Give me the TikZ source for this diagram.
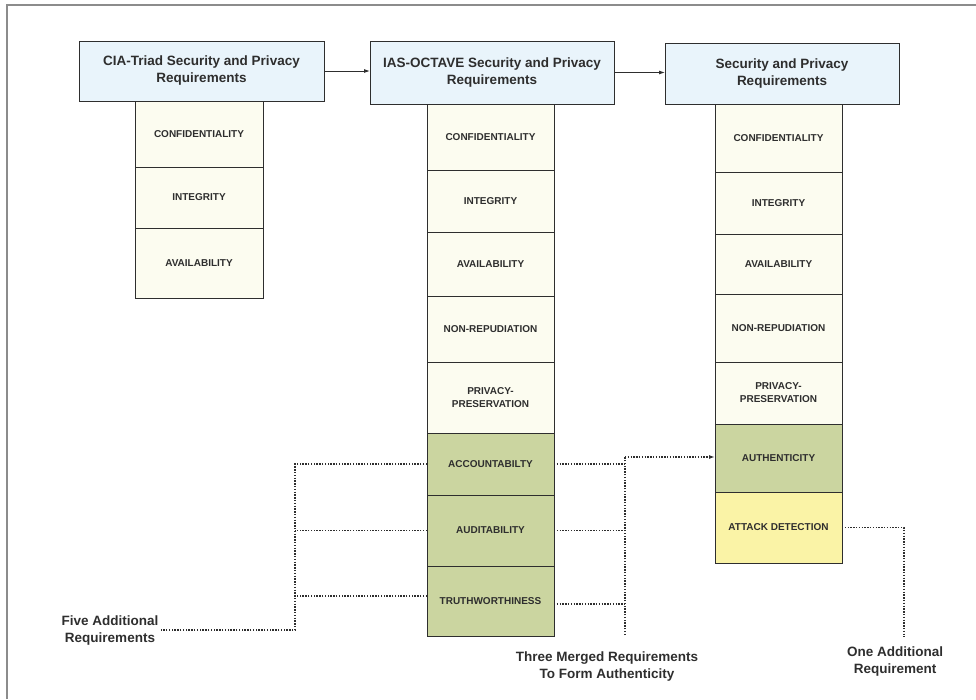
\documentclass[tikz,border=0pt]{standalone}
\usepackage{fontspec}
\setmainfont{Liberation Sans}
\usetikzlibrary{arrows.meta}

\definecolor{hdrfill}{HTML}{E9F4FB}
\definecolor{cellfill}{HTML}{FCFCF0}
\definecolor{mergefill}{HTML}{CBD5A0}
\definecolor{newfill}{HTML}{FAF3A6}
\definecolor{ink}{HTML}{2E2E2E}
\definecolor{framegray}{HTML}{8C8C8C}

\tikzset{
  hdr/.style={draw=ink, line width=0.9pt, fill=hdrfill, inner sep=0pt, outer sep=0pt,
    align=center, text=ink, font=\fontsize{13.5}{17}\selectfont\bfseries},
  cell/.style={draw=ink, line width=0.8pt, fill=cellfill, inner sep=0pt, outer sep=0pt,
    align=center, text=ink, font=\fontsize{10}{13}\selectfont\bfseries},
  merged/.style={cell, fill=mergefill},
  added/.style={cell, fill=newfill},
  colA/.style={minimum width=128pt},
  colB/.style={minimum width=127pt},
  colC/.style={minimum width=127pt},
  note/.style={align=center, text=ink, font=\fontsize{13.5}{17}\selectfont\bfseries, inner sep=2pt},
  flow/.style={draw=ink, line width=0.9pt, -{Latex[length=6pt,width=4pt]}},
  link/.style={draw=ink, line width=1.2pt, dash pattern=on 1.4pt off 1.4pt},
}

\begin{document}
\begin{tikzpicture}[x=1pt, y=-1pt]
\useasboundingbox (0,0) rectangle (976,699);

% outer frame
\draw[framegray, line width=1.5pt] (7,699) -- (7,5) -- (976,5);

% column headers
\node[hdr, minimum width=245pt, minimum height=60pt] (h1) at (201.5,71)
  {CIA-Triad Security and Privacy\\Requirements};
\node[hdr, minimum width=244pt, minimum height=63pt] (h2) at (492,72.5)
  {IAS-OCTAVE Security and Privacy\\Requirements};
\node[hdr, minimum width=234pt, minimum height=61pt] (h3) at (782,73.5)
  {Security and Privacy\\Requirements};

% CIA triad column
\node[cell, colA, minimum height=66pt] (a1) at (199,134)   {CONFIDENTIALITY};
\node[cell, colA, minimum height=61pt] (a2) at (199,197.5) {INTEGRITY};
\node[cell, colA, minimum height=70pt] (a3) at (199,263)   {AVAILABILITY};

% IAS-OCTAVE column
\node[cell, colB, minimum height=66pt] (b1) at (490.5,137)   {CONFIDENTIALITY};
\node[cell, colB, minimum height=62pt] (b2) at (490.5,201)   {INTEGRITY};
\node[cell, colB, minimum height=64pt] (b3) at (490.5,264)   {AVAILABILITY};
\node[cell, colB, minimum height=66pt] (b4) at (490.5,329)   {NON-REPUDIATION};
\node[cell, colB, minimum height=71pt] (b5) at (490.5,397.5) {PRIVACY-\\PRESERVATION};
\node[merged, colB, minimum height=62pt] (acc) at (490.5,464)   {ACCOUNTABILTY};
\node[merged, colB, minimum height=71pt] (aud) at (490.5,530.5) {AUDITABILITY};
\node[merged, colB, minimum height=70pt] (tru) at (490.5,601)   {TRUTHWORTHINESS};

% resulting column
\node[cell, colC, minimum height=68pt] (c1) at (778.5,138) {CONFIDENTIALITY};
\node[cell, colC, minimum height=62pt] (c2) at (778.5,203) {INTEGRITY};
\node[cell, colC, minimum height=60pt] (c3) at (778.5,264) {AVAILABILITY};
\node[cell, colC, minimum height=68pt] (c4) at (778.5,328) {NON-REPUDIATION};
\node[cell, colC, minimum height=62pt] (c5) at (778.5,393) {PRIVACY-\\PRESERVATION};
\node[merged, colC, minimum height=68pt] (auth) at (778.5,458)   {AUTHENTICITY};
\node[added, colC, minimum height=71pt]  (att)  at (778.5,527.5) {ATTACK DETECTION};

% header flow
\draw[flow] (h1.east) -- (h1.east -| h2.west);
\draw[flow] (h2.east) -- (h2.east -| h3.west);

% annotations
\node[note] (five)  at (110,630) {Five Additional\\Requirements};
\node[note] (three) at (607,666) {Three Merged Requirements\\To Form Authenticity};
\node[note] (one)   at (895,661) {One Additional\\Requirement};

% bus points of the dotted connectors
\coordinate (lbus) at (295,630);
\coordinate (rtop) at (625,457);
\coordinate (rbot) at (625,635);
\coordinate (abot) at (904,637);

% five additional requirements
\draw[link] (acc.west) -| (lbus) -- (five.east);
\draw[link] (aud.west) -- (aud.west -| lbus);
\draw[link] ([yshift=5pt]tru.west) -- ([yshift=5pt]tru.west -| lbus);

% three requirements merged into authenticity
\draw[link] (acc.east) -- (acc.east -| rtop);
\draw[link] (aud.east) -- (aud.east -| rtop);
\draw[link] ([yshift=-3pt]tru.east) -- ([yshift=-3pt]tru.east -| rtop);
\draw[link] (rbot) -- (rtop);
\draw[link, -{Latex[length=6pt,width=4pt]}] (rtop) -- (rtop -| auth.west);

% one additional requirement
\draw[link] (att.east) -| (abot);
\end{tikzpicture}
\end{document}
